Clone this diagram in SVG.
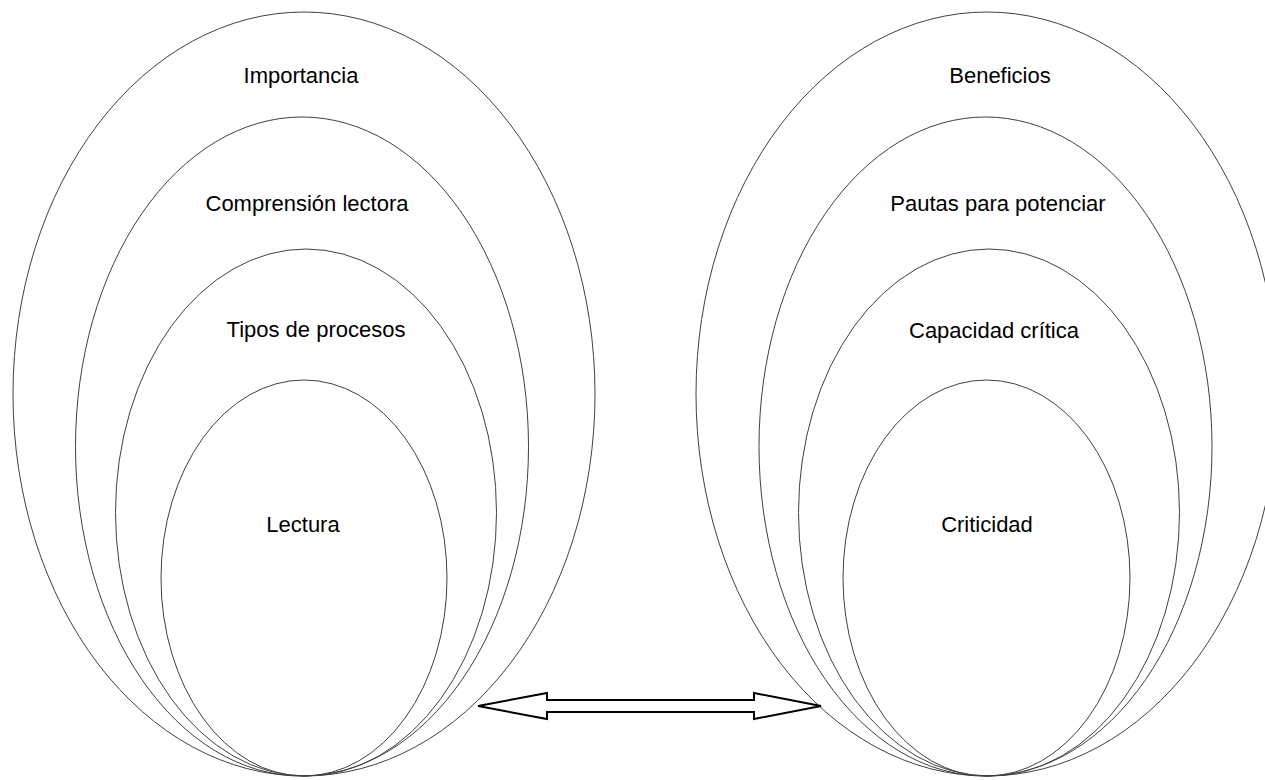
<svg xmlns="http://www.w3.org/2000/svg" width="1265" height="780" viewBox="0 0 1265 780">
<style>
.e{fill:none;stroke:#404040;stroke-width:1}
.t{font-family:"Liberation Sans",Arial,sans-serif;font-size:22px;fill:#000;text-anchor:middle}
.arrow{fill:#fff;stroke:#000;stroke-width:2;stroke-linejoin:miter}
</style>
<rect width="1265" height="780" fill="#fff"/>
<g id="left-set">
<g id="importancia"><ellipse class="e" cx="304" cy="394" rx="291" ry="382"/><text class="t" x="301" y="83">Importancia</text></g>
<g id="comprension-lectora"><ellipse class="e" cx="302" cy="446.5" rx="226.5" ry="329.5"/><text class="t" x="307" y="211">Comprensión lectora</text></g>
<g id="tipos-de-procesos"><ellipse class="e" cx="306" cy="512.5" rx="190.5" ry="263.5"/><text class="t" x="316" y="337">Tipos de procesos</text></g>
<g id="lectura"><ellipse class="e" cx="304" cy="578" rx="143" ry="198"/><text class="t" x="303" y="532">Lectura</text></g>
</g>
<g id="right-set">
<g id="beneficios"><ellipse class="e" cx="987" cy="394" rx="291" ry="382"/><text class="t" x="1000" y="83">Beneficios</text></g>
<g id="pautas-para-potenciar"><ellipse class="e" cx="985.5" cy="446.5" rx="226.5" ry="329.5"/><text class="t" x="998" y="211">Pautas para potenciar</text></g>
<g id="capacidad-critica"><ellipse class="e" cx="989" cy="512.5" rx="190.5" ry="263.5"/><text class="t" x="994" y="338">Capacidad crítica</text></g>
<g id="criticidad"><ellipse class="e" cx="986.5" cy="578" rx="143.5" ry="198"/><text class="t" x="987" y="532">Criticidad</text></g>
</g>
<g id="connectors">
<polygon class="arrow" points="478,706 547,693 547,700 754,700 754,693 821,706 754,719 754,712 547,712 547,719"/>
</g>
</svg>
